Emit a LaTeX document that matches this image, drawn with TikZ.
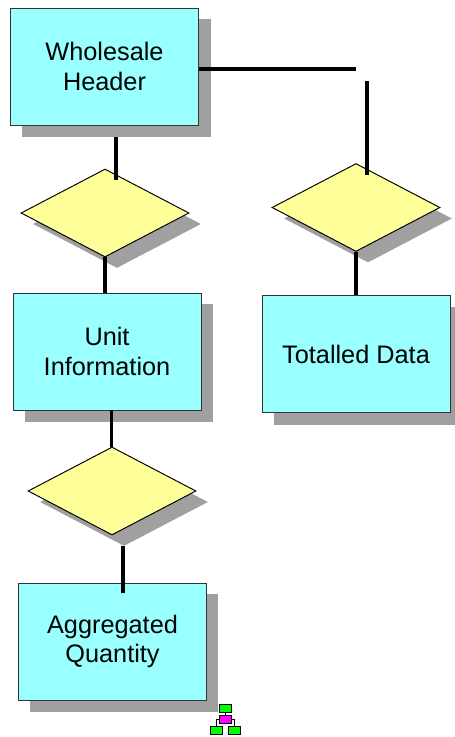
\documentclass[tikz,border=0pt]{standalone}
\usepackage{fontspec}
\setmainfont{Liberation Sans}
\usetikzlibrary{
    shapes.geometric,
    calc,
    positioning
}
\definecolor{entitycyan}{HTML}{99FFFF}
\definecolor{relyellow}{HTML}{FFFF99}
\definecolor{shadowgrey}{HTML}{A0A0A0}
\definecolor{iconmagenta}{HTML}{FF00FF}
\definecolor{icongreen}{HTML}{00FF00}
\tikzset{
    entity/.style={draw=black!80, line width=0.55pt, fill=entitycyan, minimum width=3.76cm, minimum height=2.34cm, inner sep=0pt, align=center, font=\fontsize{14.4}{17}\selectfont},
    entityshadow/.style={fill=shadowgrey, minimum width=3.78cm, minimum height=2.35cm, inner sep=0pt},
    relation/.style={diamond, aspect=1.9, draw=black, line width=0.55pt, fill=relyellow, minimum width=3.36cm, minimum height=1.76cm, inner sep=0pt},
    relationshadow/.style={diamond, aspect=1.9, fill=shadowgrey, minimum width=3.36cm, minimum height=1.76cm, inner sep=0pt},
    link/.style={line width=2.1pt},
    iconbox/.style={draw=black, line width=0.5pt, minimum width=0.24cm, minimum height=0.16cm, inner sep=0pt},
    iconlink/.style={line width=0.5pt}
}
\begin{document}
\begin{tikzpicture}[x=0.02cm, y=-0.02cm]
    \useasboundingbox (0, 0) rectangle (454, 737);
    % shadows
    \node[entityshadow] (wholesaleshadow) at (116.5, 78) {};
    \node[entityshadow] (unitshadow) at (119, 363) {};
    \node[entityshadow] (aggregatedshadow) at (124, 653) {};
    \node[entityshadow] (totalledshadow) at (368, 366) {};
    \node[relationshadow] (relationAshadow) at (117, 224) {};
    \node[relationshadow] (relationBshadow) at (124, 502) {};
    \node[relationshadow] (relationCshadow) at (368, 218.5) {};
    % entities
    \node[entity] (wholesale) at (104.5, 66.5) {Wholesale\\Header};
    \node[entity] (unit) at (107, 351.5) {Unit\\Information};
    \node[entity] (aggregated) at (112.5, 641.5) {Aggregated\\Quantity};
    \node[entity] (totalled) at (356, 354) {Totalled Data};
    % relations
    \node[relation] (relationA) at (105, 213) {};
    \node[relation] (relationB) at (112, 491) {};
    \node[relation] (relationC) at (356, 207.5) {};
    % free ends of the links
    \coordinate (wholesaleend) at (116, 180);
    \coordinate (brokenA) at (356, 69);
    \coordinate (brokenB) at (367, 81);
    \coordinate (relationCend) at (367, 175);
    \coordinate (unitstart) at (111.5, 447);
    \coordinate (relationBend) at (123, 546);
    \coordinate (aggregatedend) at (123, 593);
    % links
    \draw[link]
    (wholesaleshadow.south -| wholesaleend) -- (wholesaleend)
    (relationA.south) -- (relationA.south |- unit.north)
    (unit.south -| unitstart) -- (unitstart)
    (relationBend) -- (aggregatedend)
    (wholesale.east |- brokenA) -- (brokenA)
    (brokenB) -- (relationCend)
    (relationC.south) -- (relationC.south |- totalled.north);
    % icon
    \node[iconbox, fill=icongreen] (icontop) at (225.5, 708.5) {};
    \node[iconbox, fill=iconmagenta] (iconmiddle) at (225.5, 719.5) {};
    \node[iconbox, fill=icongreen] (iconleft) at (216.5, 730.5) {};
    \node[iconbox, fill=icongreen] (iconright) at (234.5, 730.5) {};
    \draw[iconlink]
    (icontop) -- (iconmiddle)
    (iconmiddle.west) -| (iconleft.north)
    (iconmiddle.east) -| (iconright.north);
\end{tikzpicture}
\end{document}
